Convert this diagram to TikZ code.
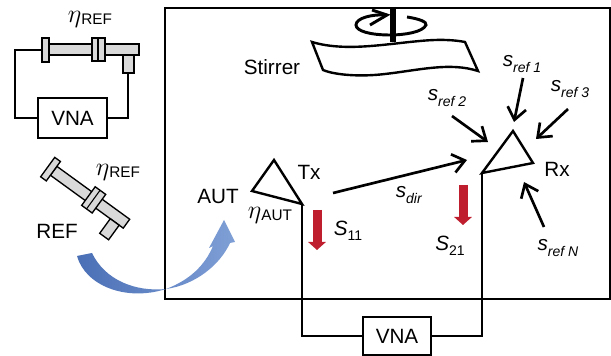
\documentclass[tikz,border=0pt]{standalone}
\usepackage{fontspec}
\setmainfont{Liberation Sans}
\usetikzlibrary{
        arrows.meta,
        positioning
    }
\definecolor{sparam}{HTML}{BE1E2D}
\definecolor{blueL}{HTML}{4A6FB5}
\definecolor{blueR}{HTML}{7F9FD6}
\newcommand{\subtext}[1]{{\fontsize{10.5}{12}\selectfont #1}}
\newcommand{\refsub}[1]{\textit{s}\raisebox{-0.5ex}{\subtext{\textit{#1}}}}
\newcommand{\etasub}[1]{\scalebox{1.35}{$\eta$}\raisebox{-0.2ex}{\subtext{\fontsize{11.5}{12}\selectfont #1}}}
\newcommand{\bigS}[1]{\textit{S}\raisebox{-0.5ex}{\subtext{#1}}}

\begin{document}
\begin{tikzpicture}
[x=0.75pt, y=-0.75pt,
lbl/.style={inner sep=0pt, font=\fontsize{15.5}{18}\selectfont},
vnabox/.style={draw=black, line width=1.4pt, fill=white, inner sep=0pt, font=\fontsize{15.5}{18}\selectfont},
wire/.style={line width=1.4pt, black},
ray/.style={line width=2pt, -{Straight Barb[length=9pt, width=14pt]}},
sarrow/.style={line width=6.75pt, sparam, -{Triangle[length=6pt, width=13pt]}},
part/.style={draw=black, line width=1pt, fill=black!15},
refline/.pic={
    \draw[part] (-49,-6) rectangle (41,5);
    \draw[part] (25,5) rectangle (36,23);
    \draw[part] (-56,-12) rectangle (-49,12);
    \draw[part] (-6,-12) rectangle (7,11);
    \draw[black, line width=0.8pt] (0,-12) -- (0,11);
},
]
    \useasboundingbox (0,0) rectangle (611,356);
    % chamber
    \draw[line width=1.5pt] (165,8) rectangle (610,299);
    % reference antenna, measured
    \pic at (98,50) {refline};
    \node (vnaRef) [vnabox, minimum width=51.75pt, minimum height=30pt] at (72.5,118) {VNA};
    \coordinate (refIn) at (42,50);
    \coordinate (refOut) at (128,73);
    \draw[wire] (vnaRef.west) -- ++(-22,0) |- (refIn);
    \draw[wire] (vnaRef.east) -| (refOut);
    \node (etaTop) [lbl] at (90,19) {\etasub{REF}};
    % reference antenna, moved into the chamber
    \pic[rotate=-36] at (93,200) {refline};
    \node (etaRef) [lbl] at (118,172) {\etasub{REF}};
    \node (refName) [lbl] at (57,231) {REF};
    \shade[left color=blueL, right color=blueR]
        (77,256) .. controls (85,285) and (125,302) .. (166,289)
        .. controls (195,285) and (220,265) .. (230,243)
        -- (235,242) -- (224,220) -- (209,248) -- (213,246)
        .. controls (205,265) and (190,280) .. (166,289)
        .. controls (135,292) and (105,280) .. (92,253) -- cycle;
    % stirrer
    \draw[line width=1.8pt, fill=white] (312,42) .. controls (345,52) and (385,44) .. (420,41) .. controls (440,39) and (455,40) .. (465,42)
        -- (478,71) .. controls (450,62) and (420,70) .. (385,74) .. controls (360,77) and (335,75) .. (323,70) -- cycle;
    \draw[line width=2.2pt] (407,17) .. controls (420,19) and (427,22) .. (426,25) .. controls (423,32) and (405,35) .. (390,35)
        .. controls (370,35) and (356,31) .. (356,25) .. controls (356,18) and (372,14) .. (387,15);
    \draw[line width=2.2pt] (372,10) -- (387,15) -- (370,25);
    \draw[line width=4.8pt] (393,7) -- (393,42);
    \node (stirrer) [lbl] at (272,67) {Stirrer};
    % antennas
    \coordinate (txFeed) at (302,204);
    \coordinate (rxFeed) at (482,173);
    \draw[line width=1.8pt] (txFeed) -- (274,160) -- (252,191) -- cycle;
    \draw[line width=1.8pt] (rxFeed) -- (513,131) -- (533,163) -- cycle;
    \node (vnaMain) [vnabox, minimum width=51pt, minimum height=28.5pt] at (397,336) {VNA};
    \draw[wire] (vnaMain.west) -| (txFeed);
    \draw[wire] (vnaMain.east) -| (rxFeed);
    \node (aut) [lbl] at (218,196) {AUT};
    \node (tx) [lbl] at (309,172) {Tx};
    \node (rx) [lbl] at (557,169) {Rx};
    \node (etaAut) [lbl] at (270,215) {\etasub{AUT}};
    % S parameters
    \coordinate (s11Top) at (317,210);
    \coordinate (s11End) at (317,250);
    \coordinate (s21Top) at (463,185);
    \coordinate (s21End) at (463,225);
    \draw[sarrow] (s11Top) -- (s11End);
    \draw[sarrow] (s21Top) -- (s21End);
    \node (s11) [lbl] at (348,231) {\bigS{11}};
    \node (s21) [lbl] at (450,246) {\bigS{21}};
    % rays
    \node (sRef1) [lbl] at (522,64) {\refsub{ref 1}};
    \node (sRef2) [lbl] at (447,98) {\refsub{ref 2}};
    \node (sRef3) [lbl] at (570,89) {\refsub{ref 3}};
    \node (sRefN) [lbl] at (558,248) {\refsub{ref N}};
    \node (sDir) [lbl] at (409,195) {\refsub{dir}};
    \draw[ray] (333,193) -- (467,160);
    \draw[ray] (523,78) -- (514,122);
    \draw[ray] (452,116) -- (488,142);
    \draw[ray] (568,109) -- (536,139);
    \draw[ray] (544,227) -- (524,182);
\end{tikzpicture}
\end{document}
